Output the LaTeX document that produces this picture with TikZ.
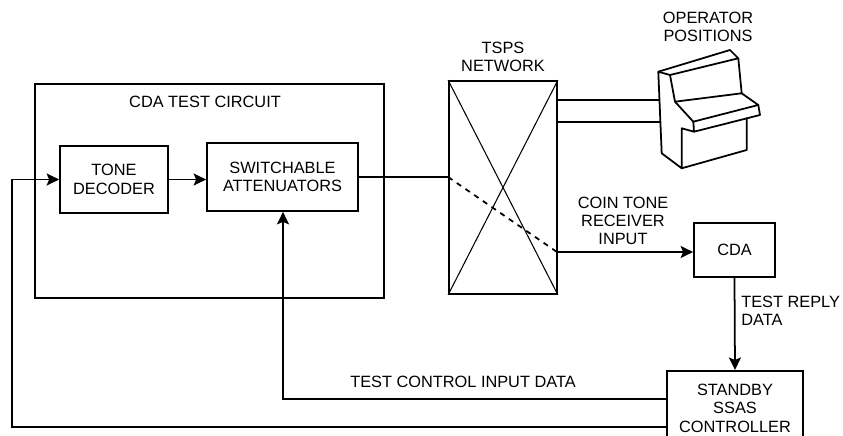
\documentclass[tikz,border=0pt]{standalone}
\usepackage{fontspec}
\setmainfont{Liberation Sans}
\usepackage{tikz}
\usetikzlibrary{arrows.meta,positioning,calc}

\newcommand{\blockfont}{\fontsize{9.3}{10.4}\selectfont}

\begin{document}
\begin{tikzpicture}[x=0.02cm, y=-0.02cm,
    box/.style={draw, line width=1pt, align=center, inner sep=0pt, font=\blockfont},
    lbl/.style={align=center, inner sep=0pt, font=\blockfont},
    wire/.style={line width=1pt},
    feed/.style={wire, -{Stealth[length=2.5mm,width=2.4mm,inset=0.5mm]}}]
    \useasboundingbox (0,0) rectangle (843,436);

    % CDA test circuit
    \node[box, minimum width=6.98cm, minimum height=4.28cm] (circuit) at (209.5,191) {};
    \node[lbl] (circuittitle) at (205,102) {CDA TEST CIRCUIT};
    \node[box, minimum width=2.16cm, minimum height=1.34cm] (tone) at (114,179.5) {TONE\\DECODER};
    \node[box, minimum width=3.02cm, minimum height=1.36cm] (atten) at (282.5,177) {SWITCHABLE\\ATTENUATORS};
    \draw[feed] (tone.east) -- (atten.west |- tone.east);

    % TSPS network
    \node[box, minimum width=2.16cm, minimum height=4.26cm] (tsps) at (503,187.5) {};
    \node[lbl] (tspslabel) at (503,57) {TSPS\\NETWORK};
    \draw[line width=0.6pt] (tsps.north west) -- (tsps.south east);
    \draw[line width=0.6pt] (tsps.north east) -- (tsps.south west);
    \coordinate (tspsin) at (tsps.west |- atten.east);
    \coordinate (tspsout) at (557,252);
    \draw[wire] (atten.east) -- (tspsin);
    \draw[wire, dashed] (tspsin) -- (tspsout);

    % CDA and standby controller
    \node[box, minimum width=1.62cm, minimum height=1.08cm] (cda) at (734.5,250) {CDA};
    \node[box, anchor=north, minimum width=2.72cm, minimum height=1.5cm] (ssas) at (735,370) {STANDBY\\SSAS\\CONTROLLER};
    \node[lbl] (cointone) at (623,221) {COIN TONE\\RECEIVER\\INPUT};
    \draw[feed] (tspsout) -- (cda.west |- tspsout);
    \draw[feed] (cda.south) -- (ssas.north);
    \node[lbl, anchor=west, align=left] (reply) at (741,311) {TEST REPLY\\DATA};

    % control and return paths
    \coordinate (ctlbend) at (283,399);
    \coordinate (retbend) at (12,427);
    \draw[feed] (ssas.west |- ctlbend) -- (ctlbend) -- (ctlbend |- atten.south);
    \node[lbl] (ctllabel) at (463,382) {TEST CONTROL INPUT DATA};
    \draw[feed] (ssas.west |- retbend) -- (retbend) |- (tone.west);

    % operator positions
    \node[lbl] (oplabel) at (708,27) {OPERATOR\\POSITIONS};
    \coordinate (opa) at (660,100);
    \coordinate (opb) at (661,122);
    \draw[wire] (opa -| tsps.east) -- (opa);
    \draw[wire] (opb -| tsps.east) -- (opb);
    \begin{scope}[line width=1pt, line join=round]
        % side panel
        \draw (658.3,71.7) -- (670,75) -- (675,101.7) -- (693.3,121.7) -- (694,131.7)
            -- (681.7,128.3) -- (681.7,168.3) -- (661.7,153.3) -- cycle;
        % top and upper panel
        \draw (658.3,71.7) -- (730,50) -- (738.3,58.3) -- (670,75);
        \draw (738.3,58.3) -- (741.7,93.3) -- (675,101.7);
        % desk
        \draw (741.7,93.3) -- (758.3,105) -- (693.3,121.7);
        \draw (758.3,105) -- (760,115) -- (694,131.7);
        % lower cabinet
        \draw (746.7,117.5) -- (746.7,150) -- (681.7,168.3);
    \end{scope}
\end{tikzpicture}
\end{document}
